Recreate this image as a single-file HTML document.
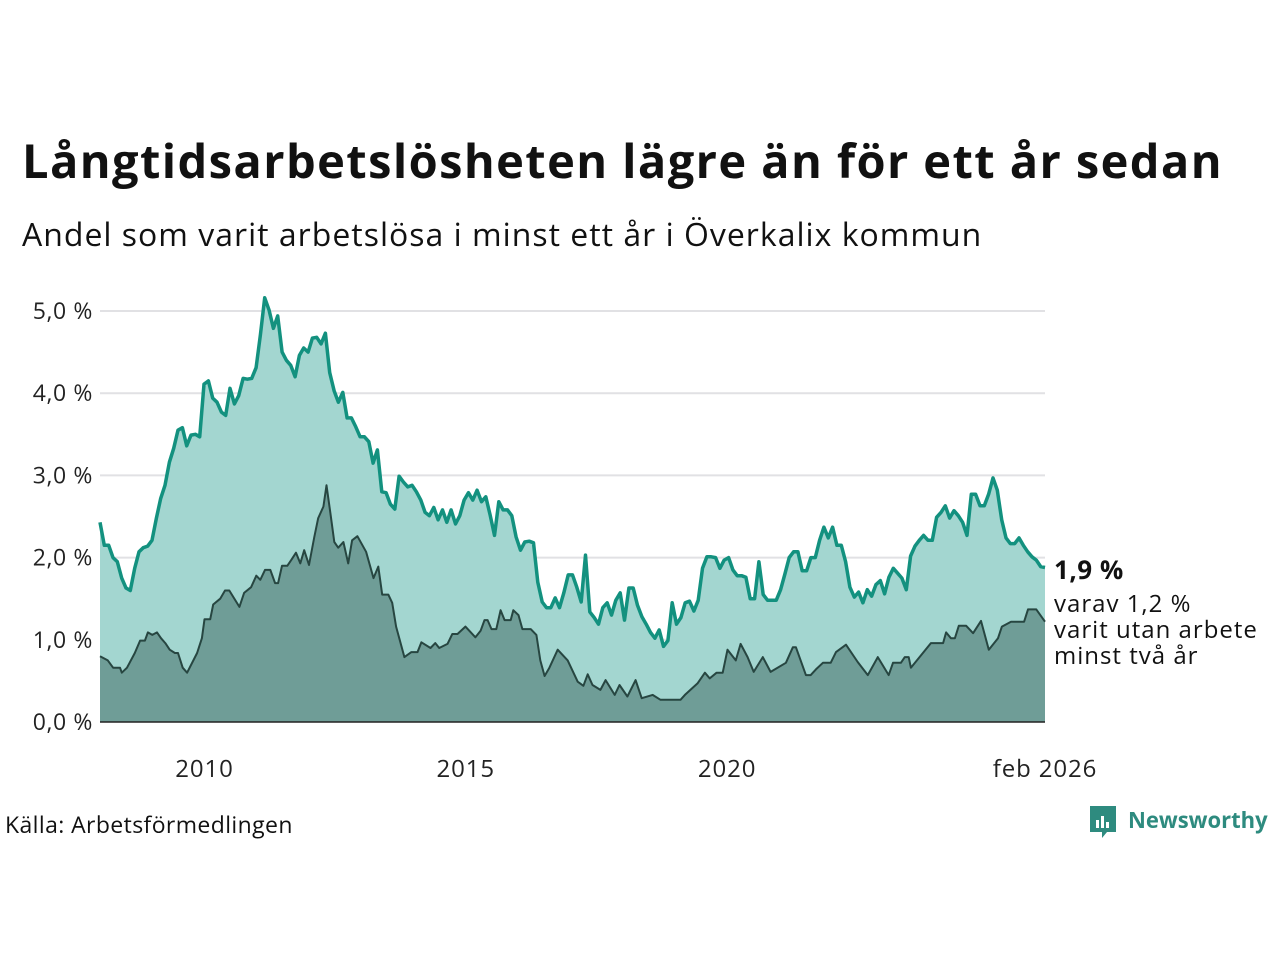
<!DOCTYPE html>
<html><head><meta charset="utf-8">
<style>
body{margin:0;background:#fff;width:1280px;height:960px;overflow:hidden;font-family:"Open Sans","Liberation Sans","DejaVu Sans",sans-serif;position:relative}
.t{position:absolute;white-space:nowrap;color:#111}
</style></head><body>
<div class="t" style="left:22px;top:128px;font-size:47px;font-weight:bold;letter-spacing:1.4px">Långtidsarbetslösheten lägre än för ett år sedan</div>
<div class="t" style="left:22px;top:213px;font-size:32px;letter-spacing:1px">Andel som varit arbetslösa i minst ett år i Överkalix kommun</div>
<svg id="chart" width="1280" height="960" style="position:absolute;left:0;top:0"></svg>
<div class="t" style="left:5px;top:808px;font-size:23px;letter-spacing:0.4px">Källa: Arbetsförmedlingen</div>
<div style="position:absolute;left:1088px;top:804px;height:36px">
<svg width="30" height="36" style="position:absolute;left:0;top:0"><path d="M2 2h26v26h-9l-5 6v-6H2z" fill="#2e8b7f"/><rect x="8" y="16" width="3" height="8" fill="#fff"/><rect x="13" y="12" width="3" height="12" fill="#fff"/><rect x="18" y="18" width="3" height="6" fill="#fff"/></svg>
<div class="t" style="left:40px;top:1px;font-size:22px;font-weight:bold;color:#2e8b7f">Newsworthy</div>
</div>
<script>
const mainValues=[2.43,2.15,2.15,2.0,1.95,1.75,1.63,1.6,1.87,2.07,2.12,2.14,2.21,2.48,2.72,2.88,3.16,3.33,3.55,3.58,3.36,3.49,3.5,3.47,4.11,4.15,3.94,3.89,3.77,3.73,4.06,3.87,3.97,4.18,4.17,4.18,4.31,4.71,5.16,5.01,4.79,4.94,4.5,4.40,4.34,4.2,4.46,4.55,4.50,4.67,4.68,4.6,4.73,4.25,4.03,3.89,4.01,3.70,3.70,3.59,3.47,3.47,3.41,3.15,3.31,2.80,2.79,2.65,2.59,2.99,2.92,2.86,2.88,2.80,2.70,2.55,2.51,2.61,2.46,2.58,2.43,2.58,2.41,2.51,2.70,2.79,2.70,2.82,2.68,2.74,2.52,2.27,2.68,2.58,2.58,2.51,2.25,2.09,2.19,2.20,2.18,1.70,1.46,1.39,1.39,1.51,1.39,1.57,1.79,1.79,1.64,1.46,2.03,1.34,1.27,1.19,1.39,1.45,1.30,1.48,1.57,1.24,1.63,1.63,1.42,1.28,1.19,1.09,1.02,1.12,0.92,0.99,1.45,1.19,1.27,1.45,1.47,1.35,1.48,1.87,2.01,2.01,2.0,1.87,1.97,2.0,1.85,1.78,1.78,1.76,1.50,1.50,1.95,1.55,1.48,1.48,1.48,1.61,1.80,2.0,2.07,2.07,1.84,1.84,2.0,2.0,2.21,2.37,2.24,2.37,2.15,2.15,1.95,1.64,1.52,1.58,1.45,1.61,1.53,1.67,1.72,1.56,1.76,1.87,1.81,1.75,1.61,2.02,2.14,2.21,2.27,2.21,2.21,2.49,2.55,2.63,2.48,2.57,2.51,2.43,2.27,2.77,2.77,2.63,2.63,2.77,2.97,2.82,2.46,2.24,2.17,2.17,2.24,2.15,2.07,2.01,1.97,1.89,1.88];
const darkMonths=[0,1.8,3,4.6,5,6.2,8,9.2,10.3,11,12,13.1,14,15,16,17.2,17.9,19,20,22.3,23.4,24,25.3,26,27.6,28.7,29.7,32,33.1,34.7,35.9,36.8,37.9,39.1,40.2,40.9,41.8,43,43.9,45,46,46.9,48,49.2,50.1,51.3,52,52.9,53.8,54.7,55.9,57,57.9,59.1,61.1,62.8,63.9,64.8,66.2,67.1,68,69.9,71.5,72.9,73.8,75.9,77,77.9,79.8,80.9,82.1,83.9,86.2,87.4,88.3,89,89.9,91,92,92.9,94.3,94.9,96.1,97,98.9,100.2,101.1,102.1,103.2,105.1,107.4,109.7,111,112,113.1,114.9,116.1,118.2,119.3,121.1,123,124.4,126.9,128.7,133.3,134.3,137.2,138.9,140,141.6,143,144.1,146,147.1,148.7,150.1,152.2,154,157.5,159.1,159.8,162.1,163.2,164.4,166,167.8,169,171.3,174,176.3,178.6,181.1,182.1,183.9,184.8,185.7,186.2,190.8,193.6,194.3,195.4,196.3,197.2,198.9,200.5,202.3,204.1,206.2,207.1,209.2,212.2,213.1,215,217];
const darkValues=[0.80,0.75,0.66,0.66,0.60,0.66,0.84,0.99,0.99,1.09,1.06,1.09,1.02,0.96,0.88,0.84,0.84,0.66,0.60,0.84,1.02,1.25,1.25,1.43,1.50,1.60,1.60,1.40,1.57,1.64,1.78,1.73,1.85,1.85,1.69,1.69,1.90,1.90,1.97,2.06,1.93,2.09,1.91,2.25,2.48,2.62,2.88,2.54,2.19,2.12,2.19,1.93,2.21,2.26,2.07,1.75,1.89,1.55,1.55,1.45,1.16,0.79,0.85,0.85,0.97,0.90,0.96,0.90,0.95,1.07,1.07,1.16,1.03,1.11,1.24,1.24,1.13,1.13,1.36,1.24,1.24,1.36,1.30,1.13,1.13,1.06,0.75,0.56,0.66,0.88,0.75,0.49,0.44,0.58,0.45,0.39,0.51,0.33,0.45,0.31,0.51,0.29,0.33,0.27,0.27,0.33,0.47,0.60,0.53,0.60,0.60,0.88,0.75,0.95,0.79,0.61,0.79,0.61,0.72,0.91,0.91,0.57,0.57,0.64,0.72,0.72,0.85,0.94,0.73,0.57,0.79,0.57,0.72,0.72,0.79,0.79,0.66,0.96,0.96,1.09,1.02,1.02,1.17,1.17,1.08,1.23,0.88,1.02,1.16,1.22,1.22,1.37,1.37,1.22];
const yTicks=[0,1,2,3,4,5];
const yTickLabels=["0,0 %","1,0 %","2,0 %","3,0 %","4,0 %","5,0 %"];
const xTickMonths=[24,84,144,217];
const xTickLabels=["2010","2015","2020","feb 2026"];
const lastMain="1,9 %", lastDark="varav 1,2 %";

const X0=100,X1=1045,Y0=722,PER=82.2,NM=217;
const xs=m=>X0+(X1-X0)*m/NM;
const ys=v=>Y0-v*PER;
const svg=document.getElementById('chart');
const NS='http://www.w3.org/2000/svg';
function mk(tag,attrs){const e=document.createElementNS(NS,tag);for(const k in attrs)e.setAttribute(k,attrs[k]);svg.appendChild(e);return e;}

yTicks.forEach((t,i)=>{
  if(t>0){const g=mk('line',{x1:X0,x2:X1,y1:ys(t),y2:ys(t),stroke:'#e1e1e4','stroke-width':2});
  
  }
  const l=mk('text',{x:93,y:ys(t)+8,'text-anchor':'end','font-size':23,'letter-spacing':0.6,fill:'#222'});
  l.textContent=yTickLabels[i];
  
  
});
const mStep=NM/(mainValues.length-1);
let mp=mainValues.map((v,i)=>xs(i*mStep).toFixed(1)+','+ys(v).toFixed(1));
const ma=mk('path',{d:'M'+xs(0)+','+Y0+' L'+mp.join(' L')+' L'+xs(NM)+','+Y0+'Z',fill:'#a3d6d0'});


let dp=darkValues.map((v,i)=>xs(darkMonths[i]).toFixed(1)+','+ys(v).toFixed(1));
const da=mk('path',{d:'M'+xs(darkMonths[0])+','+Y0+' L'+dp.join(' L')+' L'+xs(darkMonths[darkMonths.length-1])+','+Y0+'Z',fill:'#6f9d97'});


const dl=mk('path',{d:'M'+dp.join(' L'),fill:'none',stroke:'#274641','stroke-width':2,'stroke-linejoin':'round'});


const ml=mk('path',{d:'M'+mp.join(' L'),fill:'none',stroke:'#13917f','stroke-width':3.5,'stroke-linejoin':'round'});


const base=mk('line',{x1:X0,x2:X1,y1:Y0,y2:Y0,stroke:'#222','stroke-width':1.5});


xTickMonths.forEach((m,i)=>{
  const t=mk('text',{x:xs(m),y:777,'text-anchor':'middle','font-size':24,'letter-spacing':0.9,fill:'#222'});
  t.textContent=xTickLabels[i];
  
  
});
const a1=mk('text',{x:1054,y:579,'font-size':26,'font-weight':'bold','letter-spacing':0.5,fill:'#111'});
a1.textContent=lastMain;


[lastDark,'varit utan arbete','minst två år'].forEach((s,i)=>{
  const t=mk('text',{x:1054,y:612+i*26,'font-size':24,'letter-spacing':1,fill:'#111'});
  t.textContent=s;
  
  
});
</script>
</body></html>
